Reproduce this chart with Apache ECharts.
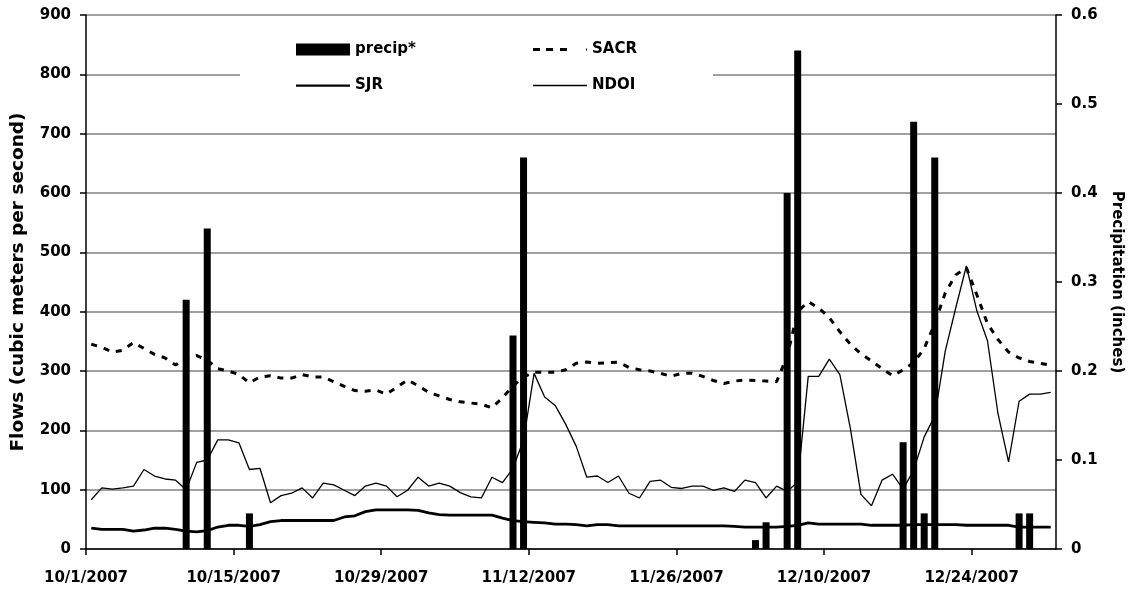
<!DOCTYPE html>
<html>
<head>
<meta charset="utf-8">
<script src="https://cdn.jsdelivr.net/npm/echarts@6/dist/echarts.min.js"></script>
<style>
html,body{margin:0;padding:0;background:#fff;overflow:hidden;width:100%;height:100%;}
#chart{width:1132px;height:592px;position:absolute;left:0;top:0;}
</style>
</head>
<body>
<div id="chart"></div>
<script>
// ---- data (daily, 10/1/2007 .. 12/31/2007) ----
const startDate = '2007-10-01';
const nDays = 92;

const sacr = [345,340,332,335,348,338,328,322,310,322,326,318,304,300,294,280,
  290,292,288,288,294,290,290,282,274,267,266,268,261,273,285,
  275,264,258,252,248,246,244,238,255,275,290,298,298,298,302,313,315,313,314,315,
  306,302,300,296,291,296,296,291,284,279,283,
  285,284,283,282,325,400,417,406,390,366,345,329,317,304,292,302,314,338,380,432,462,474,
  428,380,353,332,322,316,313,310];

const sjr = [35,33,33,33,30,32,35,35,33,30,29,31,37,40,40,38,
  41,46,48,48,48,48,48,48,54,56,63,66,66,66,66,
  65,61,58,57,57,57,57,57,52,48,46,45,44,42,42,41,39,41,41,39,
  39,39,39,39,39,39,39,39,39,39,38,
  37,37,37,37,38,40,44,42,42,42,42,42,40,40,40,40,41,41,41,41,41,40,
  40,40,40,40,37,37,37,37];

const ndoi = [83,103,101,103,106,134,123,118,116,100,146,150,184,184,179,134,
  136,78,90,94,103,86,111,108,99,90,106,111,106,88,99,
  121,106,111,106,95,88,86,121,112,136,184,296,256,242,210,173,121,123,112,123,
  94,86,114,116,104,102,106,106,99,103,97,
  116,112,86,106,97,113,291,291,320,294,203,92,73,116,126,101,133,189,224,334,407,477,
  401,351,228,147,249,261,261,264];

const precipDates = ['2007-10-10','2007-10-12','2007-10-16','2007-11-10','2007-11-11',
  '2007-12-03','2007-12-04','2007-12-06','2007-12-07','2007-12-17','2007-12-18',
  '2007-12-19','2007-12-20','2007-12-28','2007-12-29'];
const precipValues = [0.28,0.36,0.04,0.24,0.44,0.01,0.03,0.40,0.56,0.12,0.48,0.04,0.44,0.04,0.04];

const flowTicks = {min:0, max:900, interval:100};
const precipTicks = {min:0, max:0.6, interval:0.1};
const dateTickInterval = 14;

// ---- helpers ----
const DAY = 86400000;
function parseUTC(s){const p=s.split('-').map(Number);return Date.UTC(p[0],p[1]-1,p[2]);}
const t0 = parseUTC(startDate);
function dayIndex(s){return Math.round((parseUTC(s)-t0)/DAY);}
function dayLabel(v){const d=new Date(t0+v*DAY);return (d.getUTCMonth()+1)+'/'+d.getUTCDate()+'/'+d.getUTCFullYear();}
function toPoints(arr){return arr.map((v,i)=>[i+0.5,v]);}

// day categories for the bar series (one slot per day)
const dayCategories = Array.from({length:nDays},(_,i)=>dayLabel(i));
const precipByDay = Array(nDays).fill(null);
precipDates.forEach((d,i)=>{precipByDay[dayIndex(d)] = precipValues[i];});

const FONT = 'DejaVu Sans';
const txt = {fontFamily:FONT,fontWeight:'bold',fontSize:15,color:'#000'};

// legend icons (box 54 x 12; tiny corner anchors keep the box size)
const anchors = 'M0,0h0.01v0.01h-0.01zM54,12h-0.01v-0.01h0.01z';
const iconSolidThick = 'path://' + anchors + 'M0,5h54v2.2h-54z';
const iconSolidThin  = 'path://' + anchors + 'M0,5.2h54v1.6h-54z';
const iconDashed = 'path://' + anchors + 'M0,4.5h7v3h-7zM13,4.5h7v3h-7zM27,4.5h7v3h-7zM53,5h1v2h-1z';

const chart = echarts.init(document.getElementById('chart'),null,{renderer:'canvas',width:1132,height:592});
chart.setOption({
  animation:false,
  backgroundColor:'#fff',
  grid:{left:86,right:67,top:15,bottom:43,containLabel:false},
  graphic:[{type:'rect',left:240,top:66,shape:{width:473,height:16},style:{fill:'#fff'},z:5}],
  legend:[
    {data:[{name:'precip*',icon:'rect'},{name:'SJR',icon:iconSolidThick}],
     orient:'vertical',left:296,top:42,padding:0,itemWidth:54,itemHeight:12,itemGap:21,
     textStyle:txt,z:10},
    {data:[{name:'SACR',icon:iconDashed},{name:'NDOI',icon:iconSolidThin}],
     orient:'vertical',left:533,top:42,padding:0,itemWidth:54,itemHeight:12,itemGap:21,
     textStyle:txt,z:10}
  ],
  xAxis:[
    {type:'value',min:0,max:nDays,interval:dateTickInterval,
     axisLine:{show:true,onZero:false,lineStyle:{color:'#000',width:1.5}},
     axisTick:{show:true,length:6,lineStyle:{color:'#000',width:1.5}},
     axisLabel:Object.assign({formatter:dayLabel,margin:22,showMaxLabel:false},txt),
     splitLine:{show:false}},
    {type:'category',data:dayCategories,boundaryGap:true,position:'bottom',show:false}
  ],
  yAxis:[
    {type:'value',min:flowTicks.min,max:flowTicks.max,interval:flowTicks.interval,
     name:'Flows (cubic meters per second)',nameLocation:'middle',nameGap:58,nameRotate:90,
     nameTextStyle:Object.assign({},txt,{fontSize:18.5}),
     axisLine:{show:true,lineStyle:{color:'#000',width:1.5}},
     axisTick:{show:true,length:6,lineStyle:{color:'#000',width:1.5}},
     axisLabel:Object.assign({margin:15},txt),
     splitLine:{show:true,lineStyle:{color:'#808080',width:1.5}}},
    {type:'value',min:precipTicks.min,max:precipTicks.max,interval:precipTicks.interval,
     name:'Precipitation (inches)',nameLocation:'middle',nameGap:53,nameRotate:-90,
     nameTextStyle:txt,
     axisLine:{show:true,lineStyle:{color:'#000',width:1.5}},
     axisTick:{show:true,length:6,lineStyle:{color:'#000',width:1.5}},
     axisLabel:Object.assign({margin:15},txt),
     splitLine:{show:false}}
  ],
  series:[
    {name:'precip*',type:'bar',xAxisIndex:1,yAxisIndex:1,barWidth:7,z:4,
     itemStyle:{color:'#000'},
     data:precipByDay},
    {name:'SACR',type:'line',symbol:'none',z:2,
     lineStyle:{color:'#000',width:3,type:[6,7]},itemStyle:{color:'#000'},
     data:toPoints(sacr)},
    {name:'SJR',type:'line',symbol:'none',z:2,
     lineStyle:{color:'#000',width:2.8},itemStyle:{color:'#000'},
     data:toPoints(sjr)},
    {name:'NDOI',type:'line',symbol:'none',z:2,
     lineStyle:{color:'#000',width:1.3},itemStyle:{color:'#000'},
     data:toPoints(ndoi)}
  ]
});
</script>
</body>
</html>
